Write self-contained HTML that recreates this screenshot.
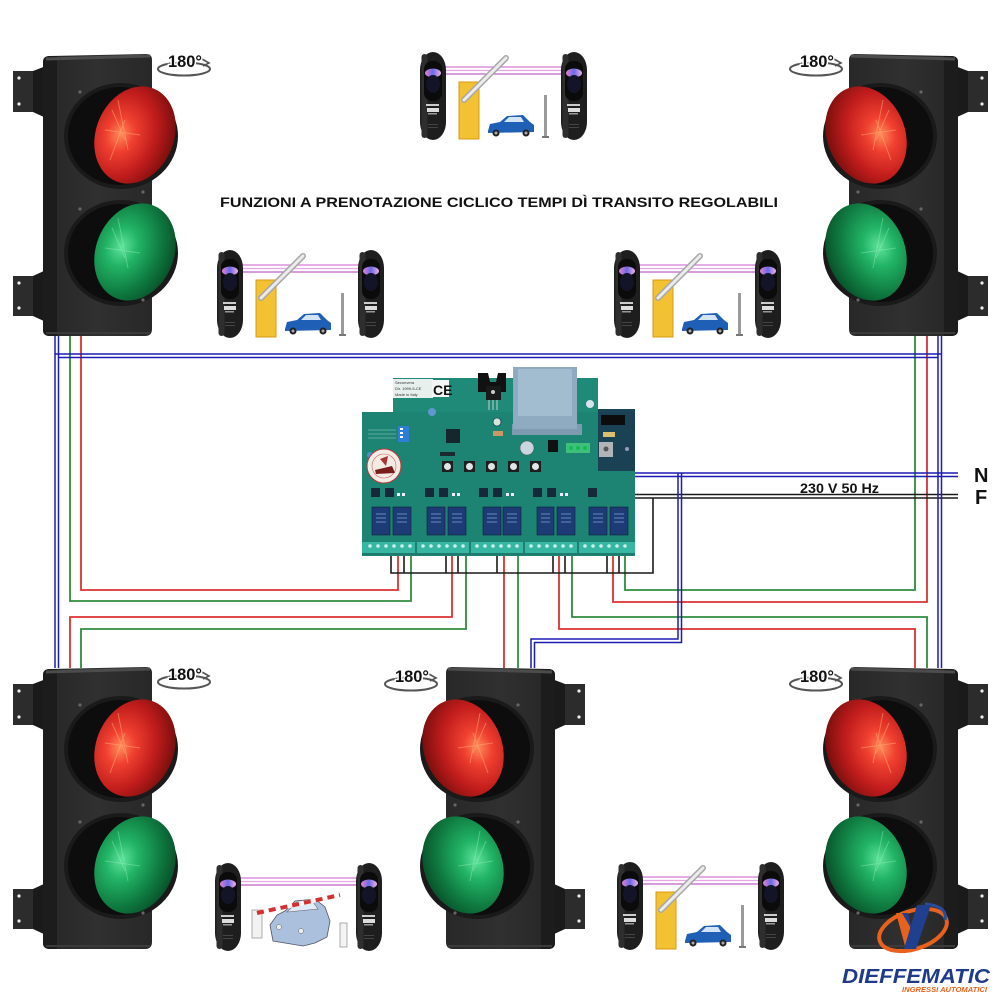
<!DOCTYPE html>
<html><head><meta charset="utf-8"><title>Semafori</title>
<style>html,body{margin:0;padding:0;background:#fff}svg{display:block}</style></head>
<body>
<svg xmlns="http://www.w3.org/2000/svg" xmlns:xlink="http://www.w3.org/1999/xlink" width="1000" height="1000" viewBox="0 0 1000 1000">
<defs>
<radialGradient id="rl" cx="0.32" cy="0.55" r="0.8">
<stop offset="0" stop-color="#ff8a5a"/><stop offset="0.22" stop-color="#f04030"/><stop offset="0.55" stop-color="#c01c1c"/><stop offset="1" stop-color="#5a0808"/></radialGradient>
<radialGradient id="gl" cx="0.32" cy="0.5" r="0.8">
<stop offset="0" stop-color="#5ee39a"/><stop offset="0.25" stop-color="#22b466"/><stop offset="0.6" stop-color="#0f7a40"/><stop offset="1" stop-color="#063a1e"/></radialGradient>
<linearGradient id="pw" x1="0" y1="0" x2="1" y2="0">
<stop offset="0" stop-color="#e080d0"/><stop offset="0.5" stop-color="#6a6ae8"/><stop offset="1" stop-color="#f0b0e0"/></linearGradient>
<linearGradient id="bodyg" x1="0" y1="0" x2="1" y2="0">
<stop offset="0" stop-color="#262626"/><stop offset="0.5" stop-color="#303030"/><stop offset="1" stop-color="#282828"/></linearGradient>

<g id="tl">
<path d="M13,71 L35,71 L35,112 L13,112 Z" fill="#2c2c2c"/>
<path d="M33,71 L46,66 L46,118 L33,112 Z" fill="#1a1a1a"/>
<circle cx="19" cy="78" r="1.6" fill="#eee"/><circle cx="19" cy="104" r="1.6" fill="#eee"/>
<path d="M13,276 L35,276 L35,316 L13,316 Z" fill="#2c2c2c"/>
<path d="M33,276 L46,270 L46,322 L33,316 Z" fill="#1a1a1a"/>
<circle cx="19" cy="283" r="1.6" fill="#eee"/><circle cx="19" cy="308" r="1.6" fill="#eee"/>
<path d="M43,62 Q43,56 50,56 L146,54 Q152,54 152,60 L152,329 Q152,336 145,336 L50,336 Q43,336 43,330 Z" fill="url(#bodyg)"/>
<path d="M43,62 Q43,56 50,56 L57,56 L57,336 L50,336 Q43,336 43,330 Z" fill="#1c1c1c"/>
<path d="M46,59 L150,56" stroke="#4c4c4c" stroke-width="3"/>
<path d="M46,333 L150,333" stroke="#3a3a3a" stroke-width="2"/>
<ellipse cx="121" cy="136" rx="57" ry="53" fill="#1a1a1a"/>
<ellipse cx="120" cy="136" rx="52" ry="49" fill="#0d0d0d"/>
<ellipse cx="135" cy="135" rx="39" ry="50" transform="rotate(22 135 135)" fill="url(#rl)"/>
<path d="M112,110 L125,140 M118,100 L128,150 M105,130 L140,135 M125,120 L110,160" stroke="#ffb070" stroke-width="1" opacity="0.5"/>
<ellipse cx="121" cy="253" rx="57" ry="53" fill="#1a1a1a"/>
<ellipse cx="120" cy="253" rx="52" ry="49" fill="#0d0d0d"/>
<ellipse cx="135" cy="252" rx="39" ry="50" transform="rotate(22 135 252)" fill="url(#gl)"/>
<path d="M112,228 L125,258 M118,218 L128,268 M105,248 L140,253" stroke="#9ff0c0" stroke-width="1" opacity="0.4"/>
<circle cx="80" cy="92" r="1.6" fill="#666"/><circle cx="143" cy="192" r="1.6" fill="#666"/>
<circle cx="80" cy="209" r="1.6" fill="#666"/><circle cx="143" cy="300" r="1.6" fill="#666"/>
</g>

<g id="pc">
<rect x="0" y="0" width="26" height="88" rx="13" ry="18" fill="#1e1e1e"/>
<rect x="1.5" y="2" width="6" height="84" rx="3" fill="#2e2e2e"/>
<rect x="4" y="9" width="18" height="40" rx="8" fill="#0b0b0b"/>
<ellipse cx="13" cy="21" rx="8" ry="4.5" fill="url(#pw)"/>
<ellipse cx="13" cy="32" rx="7" ry="9" fill="#141428"/>
<rect x="6" y="52" width="13" height="2" fill="#ccc"/>
<rect x="7" y="56" width="12" height="4" fill="#ddd"/>
<rect x="8" y="61" width="9" height="1.5" fill="#999"/>
<rect x="8" y="72" width="10" height="1" fill="#444"/>
<rect x="8" y="75" width="10" height="1" fill="#444"/>
</g>

<g id="pair">
<line x1="18" y1="15" x2="150" y2="15" stroke="#d77ad7" stroke-width="1.2"/>
<line x1="18" y1="18.5" x2="150" y2="18.5" stroke="#e8a8e8" stroke-width="1.2"/>
<line x1="18" y1="22" x2="150" y2="22" stroke="#c060c8" stroke-width="1.2"/>
<use xlink:href="#pc" x="0" y="0"/>
<use xlink:href="#pc" x="141" y="0"/>
</g>

<g id="sceneA">
<rect x="39" y="30" width="20" height="57" fill="#f2c232" stroke="#d89a12" stroke-width="1"/>
<line x1="44" y1="48" x2="86" y2="6" stroke="#a8a8a8" stroke-width="6" stroke-linecap="round"/>
<line x1="44" y1="48" x2="86" y2="6" stroke="#ececec" stroke-width="3" stroke-linecap="round"/>
<path d="M68,79 L70,72 L80,70 L87,64 L103,63 L110,70 L114,73 L114,80 L68,81 Z" fill="#1f5fb5"/>
<path d="M84,70 L89,65 L101,65 L104,70 Z" fill="#d4e4f4"/>
<circle cx="76" cy="81" r="3.5" fill="#222"/><circle cx="106" cy="81" r="3.5" fill="#222"/>
<circle cx="76" cy="81" r="1.5" fill="#aaa"/><circle cx="106" cy="81" r="1.5" fill="#aaa"/>
<rect x="124" y="43" width="3" height="42" fill="#9a9a9a"/>
<rect x="122" y="84" width="7" height="2" fill="#777"/>
</g>
</defs>

<rect width="1000" height="1000" fill="#fff"/>

<!-- wires -->
<g fill="none" stroke-width="1.8">
<g stroke="#dc3030">
<path d="M398,555 V590 H81 V335"/>
<path d="M452,555 V617 H70 V668"/>
<path d="M504,555 V668"/>
<path d="M559,555 V629 H915 V668"/>
<path d="M613,555 V602 H927 V335"/>
</g>
<g stroke="#2e8c3c">
<path d="M411,555 V601 H70 V335"/>
<path d="M466,555 V629 H81 V668"/>
<path d="M518,555 V668"/>
<path d="M572,555 V617 H927 V668"/>
<path d="M625,555 V590 H915 V335"/>
</g>
<g stroke="#1a1a1a" stroke-width="1.6">
<path d="M653,498 V573 H391 V555"/>
<path d="M404,555 V573 M446,555 V573 M458,555 V573 M497,555 V573 M553,555 V573 M565,555 V573 M607,555 V573 M619,555 V573"/>
<path d="M598,458 V498 H958"/>
<path d="M601.5,458 V494.5 H958"/>
</g>
<g stroke="#1c1cb4" stroke-width="1.5">
<path d="M55,335 V668 M58.5,335 V668"/>
<path d="M55,354 H941.5 M58.5,357.5 H938"/>
<path d="M938,335 V668 M941.5,335 V668"/>
<path d="M611,457 V476.5 H958"/>
<path d="M614.5,457 V473 H958"/>
<path d="M678,473 V639 H531 V668"/>
<path d="M681.5,473 V642.5 H534.5 V668"/>
</g>
</g>

<!-- labels N F -->
<text x="974" y="482" font-family="Liberation Sans, sans-serif" font-weight="bold" font-size="20" fill="#111">N</text>
<text x="975" y="504" font-family="Liberation Sans, sans-serif" font-weight="bold" font-size="20" fill="#111">F</text>
<text x="800" y="493" font-family="Liberation Sans, sans-serif" font-weight="bold" font-size="14" fill="#111" textLength="79" lengthAdjust="spacingAndGlyphs">230 V 50 Hz</text>

<!-- title -->
<text x="220" y="207" font-family="Liberation Sans, sans-serif" font-weight="bold" font-size="14" fill="#111" textLength="558" lengthAdjust="spacingAndGlyphs">FUNZIONI A PRENOTAZIONE CICLICO TEMPI DÌ TRANSITO REGOLABILI</text>

<!-- PCB -->
<g>
<path d="M362,412 H393 V378 H598 V409 H635 V556 H362 Z" fill="#1f8a78"/>
<rect x="598" y="409" width="37" height="62" fill="#1c4458"/>
<rect x="362" y="412" width="273" height="144" fill="#000" opacity="0.04"/>
<rect x="393" y="379" width="40" height="19" fill="#e8f0ee"/>
<text x="395" y="384" font-family="Liberation Sans, sans-serif" font-size="4" fill="#333">Seconvera</text>
<text x="395" y="390" font-family="Liberation Sans, sans-serif" font-size="4" fill="#333">Dir. 1999-5-CE</text>
<text x="395" y="396" font-family="Liberation Sans, sans-serif" font-size="4" fill="#333">Made in Italy</text>
<rect x="432" y="380" width="17" height="17" fill="#f4f6f6"/>
<text x="433" y="395" font-family="Liberation Sans, sans-serif" font-weight="bold" font-size="14" fill="#111">CE</text>
<circle cx="432" cy="412" r="4" fill="#5f98d0"/>
<path d="M478,373 L488,373 L490,382 L496,382 L498,373 L506,373 L506,392 L478,392 Z" fill="#111"/>
<rect x="486" y="386" width="15" height="14" fill="#1a1a1a"/>
<circle cx="493" cy="392" r="2" fill="#ccc"/>
<path d="M489,400 V410 M493,400 V410 M497,400 V410" stroke="#ccc" stroke-width="1"/>
<circle cx="497" cy="422" r="4" fill="#cfe8d8" stroke="#114" stroke-width="0.6"/>
<rect x="493" y="431" width="10" height="5" fill="#c89868"/>
<rect x="512" y="424" width="70" height="11" fill="#7d9ab0"/>
<rect x="513" y="367" width="64" height="62" fill="#8eabc2"/>
<rect x="518" y="369" width="54" height="47" fill="#a2bdd0"/>
<circle cx="590" cy="404" r="4" fill="#d8e4ea"/>
<circle cx="527" cy="448" r="7" fill="#c8d6de" stroke="#556" stroke-width="0.6"/>
<rect x="548" y="440" width="10" height="12" fill="#111"/>
<rect x="566" y="443" width="24" height="10" fill="#3fbf7a"/>
<circle cx="571" cy="448" r="2" fill="#1b5"/><circle cx="578" cy="448" r="2" fill="#1b5"/><circle cx="585" cy="448" r="2" fill="#1b5"/>
<rect x="601" y="415" width="24" height="10" fill="#0c0c0c"/>
<rect x="603" y="432" width="12" height="5" fill="#d8c070"/>
<rect x="599" y="442" width="14" height="15" fill="#b0b4b8"/>
<circle cx="606" cy="449" r="2.5" fill="#555"/>
<circle cx="627" cy="449" r="2" fill="#99b"/>
<rect x="398" y="426" width="11" height="16" fill="#2f7ed6"/>
<rect x="400" y="428" width="3" height="2" fill="#fff"/><rect x="400" y="432" width="3" height="2" fill="#fff"/><rect x="400" y="436" width="3" height="2" fill="#fff"/>
<path d="M368,430 H396 M368,434 H396 M368,438 H396" stroke="#9cc" stroke-width="0.6"/>
<rect x="446" y="429" width="14" height="14" fill="#15262c"/>
<rect x="440" y="452" width="15" height="4" fill="#1a2a30"/>
<circle cx="370" cy="455" r="3" fill="#4f8fd0"/>
<circle cx="384" cy="466" r="17" fill="#f3ece4" stroke="#b83a3a" stroke-width="1"/>
<circle cx="384" cy="466" r="12" fill="none" stroke="#c66" stroke-width="0.6"/>
<path d="M375,470 L392,466 L395,473 L376,474 Z" fill="#7a1c1c"/>
<path d="M380,459 L388,456 L386,466 Z" fill="#a33"/>
<g fill="#1e1e1e">
<rect x="442" y="461" width="11" height="11"/><rect x="464" y="461" width="11" height="11"/><rect x="486" y="461" width="11" height="11"/><rect x="508" y="461" width="11" height="11"/><rect x="530" y="461" width="11" height="11"/>
</g>
<g fill="#e0e6e8">
<circle cx="447.5" cy="466.5" r="3.5"/><circle cx="469.5" cy="466.5" r="3.5"/><circle cx="491.5" cy="466.5" r="3.5"/><circle cx="513.5" cy="466.5" r="3.5"/><circle cx="535.5" cy="466.5" r="3.5"/>
</g>
<g fill="#16283a">
<rect x="371" y="488" width="9" height="9"/><rect x="385" y="488" width="9" height="9"/>
<rect x="425" y="488" width="9" height="9"/><rect x="439" y="488" width="9" height="9"/>
<rect x="479" y="488" width="9" height="9"/><rect x="493" y="488" width="9" height="9"/>
<rect x="533" y="488" width="9" height="9"/><rect x="547" y="488" width="9" height="9"/>
<rect x="588" y="488" width="9" height="9"/>
</g>
<g fill="#eef">
<rect x="397" y="493" width="3" height="3"/><rect x="402" y="493" width="3" height="3"/>
<rect x="452" y="493" width="3" height="3"/><rect x="457" y="493" width="3" height="3"/>
<rect x="506" y="493" width="3" height="3"/><rect x="511" y="493" width="3" height="3"/>
<rect x="560" y="493" width="3" height="3"/><rect x="565" y="493" width="3" height="3"/>
</g>
<g fill="#1d3b74" stroke="#0e1e3c" stroke-width="0.6">
<rect x="372" y="507" width="18" height="28"/><rect x="393" y="507" width="18" height="28"/>
<rect x="427" y="507" width="18" height="28"/><rect x="448" y="507" width="18" height="28"/>
<rect x="483" y="507" width="18" height="28"/><rect x="503" y="507" width="18" height="28"/>
<rect x="537" y="507" width="17" height="28"/><rect x="557" y="507" width="18" height="28"/>
<rect x="589" y="507" width="18" height="28"/><rect x="610" y="507" width="18" height="28"/>
</g>
<g stroke="#7fa6d8" stroke-width="0.8">
<path d="M376,514 H386 M376,518 H386 M376,522 H386 M397,514 H407 M397,518 H407 M397,522 H407"/>
<path d="M431,514 H441 M431,518 H441 M431,522 H441 M452,514 H462 M452,518 H462 M452,522 H462"/>
<path d="M487,514 H497 M487,518 H497 M487,522 H497 M507,514 H517 M507,518 H517 M507,522 H517"/>
<path d="M541,514 H550 M541,518 H550 M541,522 H550 M561,514 H571 M561,518 H571 M561,522 H571"/>
<path d="M593,514 H603 M593,518 H603 M593,522 H603 M614,514 H624 M614,518 H624 M614,522 H624"/>
</g>
<rect x="362" y="542" width="273" height="13" fill="#38b6a4"/>
<g fill="#1f7f70">
<rect x="415" y="542" width="2" height="13"/><rect x="469" y="542" width="2" height="13"/><rect x="523" y="542" width="2" height="13"/><rect x="577" y="542" width="2" height="13"/>
</g>
<g fill="#c8efe8">
<circle cx="370" cy="546" r="1.8"/><circle cx="378" cy="546" r="1.8"/><circle cx="386" cy="546" r="1.8"/><circle cx="394" cy="546" r="1.8"/><circle cx="402" cy="546" r="1.8"/><circle cx="410" cy="546" r="1.8"/>
<circle cx="423" cy="546" r="1.8"/><circle cx="431" cy="546" r="1.8"/><circle cx="439" cy="546" r="1.8"/><circle cx="447" cy="546" r="1.8"/><circle cx="455" cy="546" r="1.8"/><circle cx="463" cy="546" r="1.8"/>
<circle cx="477" cy="546" r="1.8"/><circle cx="485" cy="546" r="1.8"/><circle cx="493" cy="546" r="1.8"/><circle cx="501" cy="546" r="1.8"/><circle cx="509" cy="546" r="1.8"/><circle cx="517" cy="546" r="1.8"/>
<circle cx="531" cy="546" r="1.8"/><circle cx="539" cy="546" r="1.8"/><circle cx="547" cy="546" r="1.8"/><circle cx="555" cy="546" r="1.8"/><circle cx="563" cy="546" r="1.8"/><circle cx="571" cy="546" r="1.8"/>
<circle cx="585" cy="546" r="1.8"/><circle cx="593" cy="546" r="1.8"/><circle cx="601" cy="546" r="1.8"/><circle cx="609" cy="546" r="1.8"/><circle cx="617" cy="546" r="1.8"/><circle cx="625" cy="546" r="1.8"/>
</g>
<rect x="362" y="553" width="273" height="2" fill="#1d7a6c"/>
</g>

<!-- traffic lights -->
<use xlink:href="#tl"/>
<use xlink:href="#tl" transform="translate(1001,0) scale(-1,1)"/>
<use xlink:href="#tl" transform="translate(0,613)"/>
<use xlink:href="#tl" transform="translate(598,613) scale(-1,1)"/>
<use xlink:href="#tl" transform="translate(1001,613) scale(-1,1)"/>

<!-- 180 labels -->
<g id="r180">
<ellipse cx="184" cy="69" rx="26" ry="6.5" fill="none" stroke="#555" stroke-width="2"/>
<path d="M202,59 L209,63 L203,66" fill="none" stroke="#555" stroke-width="1.6"/>
<text x="168" y="67" font-family="Liberation Sans, sans-serif" font-weight="bold" font-size="17" fill="#111" stroke="#fff" stroke-width="3" paint-order="stroke" textLength="34" lengthAdjust="spacingAndGlyphs">180°</text>
</g>
<use xlink:href="#r180" transform="translate(632,0)"/>
<use xlink:href="#r180" transform="translate(0,613)"/>
<use xlink:href="#r180" transform="translate(227,615)"/>
<use xlink:href="#r180" transform="translate(632,615)"/>

<!-- photocell groups -->
<use xlink:href="#pair" transform="translate(420,52)"/>
<use xlink:href="#sceneA" transform="translate(420,52)"/>
<use xlink:href="#pair" transform="translate(217,250)"/>
<use xlink:href="#sceneA" transform="translate(217,250)"/>
<use xlink:href="#pair" transform="translate(614,250)"/>
<use xlink:href="#sceneA" transform="translate(614,250)"/>
<use xlink:href="#pair" transform="translate(617,862)"/>
<use xlink:href="#sceneA" transform="translate(617,862)"/>
<use xlink:href="#pair" transform="translate(215,863)"/>
<g transform="translate(215,863)">
<rect x="37" y="47" width="10" height="28" fill="#f2f2f2" stroke="#999" stroke-width="0.8"/>
<path d="M55,62 L62,52 L70,48 L80,38 L100,36 L110,44 L115,58 L112,74 L100,80 L88,83 L58,78 Z" fill="#aac0dd" stroke="#556" stroke-width="0.8"/>
<path d="M72,49 L81,40 L98,39 L103,46 Z" fill="#e2ecf6" stroke="#667" stroke-width="0.6"/>
<circle cx="64" cy="64" r="2.5" fill="#eee" stroke="#666" stroke-width="0.5"/>
<circle cx="86" cy="68" r="2.5" fill="#eee" stroke="#666" stroke-width="0.5"/>
<line x1="42" y1="50" x2="125" y2="32" stroke="#fff" stroke-width="4"/>
<line x1="42" y1="50" x2="125" y2="32" stroke="#d43030" stroke-width="4" stroke-dasharray="7 5"/>
<rect x="125" y="60" width="7" height="24" fill="#f4f4f4" stroke="#999" stroke-width="0.8"/>
</g>

<!-- logo -->
<g>
<ellipse cx="913" cy="930" rx="35" ry="19" transform="rotate(-18 913 930)" fill="none" stroke="#e8621e" stroke-width="4"/>
<path d="M925,904 Q948,906 945,920" fill="none" stroke="#2a4d9a" stroke-width="3"/>
<path d="M896,913 L907,913 L913,941 L905,946 Z" fill="#e8621e"/>
<path d="M917,905 L931,905 L916,949 L904,949 Z" fill="#213f8f"/>
<path d="M902,913 L908,913 L912,930 Z" fill="#213f8f"/>
<text x="842" y="983" font-family="Liberation Sans, sans-serif" font-weight="bold" font-style="italic" font-size="20" fill="#1e3a8a" textLength="148" lengthAdjust="spacingAndGlyphs">DIEFFEMATIC</text>
<text x="902" y="992" font-family="Liberation Sans, sans-serif" font-weight="bold" font-style="italic" font-size="7" fill="#e8621e" textLength="85" lengthAdjust="spacingAndGlyphs">INGRESSI AUTOMATICI</text>
</g>
</svg>
</body></html>
